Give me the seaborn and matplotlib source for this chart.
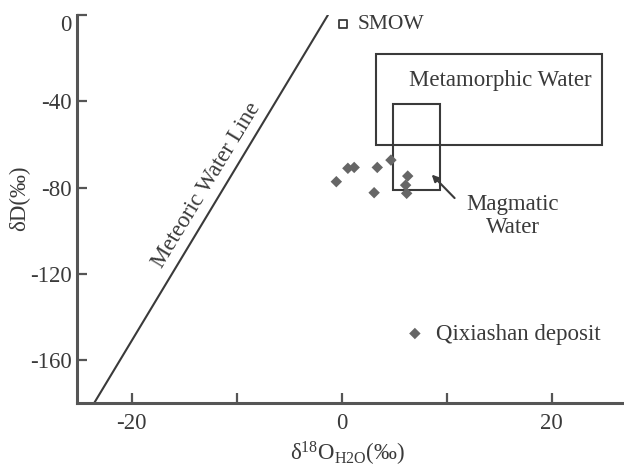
import matplotlib
matplotlib.use("Agg")
import matplotlib.pyplot as plt
from matplotlib.patches import Rectangle
import pandas as pd
import seaborn as sns

# Qixiashan deposit, fluid inclusion H-O isotopes
d18o_h2o = [-0.5, 0.6, 1.2, 3.4, 4.7, 3.1, 6.3, 6.1, 6.2]
dD = [-77.2, -71.0, -70.6, -70.6, -67.2, -82.3, -74.6, -78.8, -82.6]

# meteoric water line end points
mwl_d18o = [-23.6, -1.3]
mwl_dD = [-180, 0]

# reference fields: x0, x1, y0, y1
metamorphic_box = [3.3, 24.8, -60, -18]
magmatic_box = [4.9, 9.4, -81, -41]

smow_d18o = [0.15]
smow_dD = [-4.3]

x_ticks = [-20, -10, 0, 10, 20]
x_ticklabels = ["-20", "", "0", "", "20"]
y_ticks = [0, -40, -80, -120, -160]
y_ticklabels = ["0", "-40", "-80", "-120", "-160"]

sns.set_style("ticks")
plt.rcParams["font.family"] = ["Liberation Serif", "DejaVu Serif"]
plt.rcParams["mathtext.fontset"] = "custom"
plt.rcParams["mathtext.rm"] = "Liberation Serif"
plt.rcParams["mathtext.it"] = "Liberation Serif:italic"
plt.rcParams["axes.unicode_minus"] = False

INK = "#3a3a3a"
FS = 16.5

fig = plt.figure(figsize=(6.24, 4.67), dpi=100)
ax = fig.add_axes([77 / 624, 1 - 403 / 467, 1 - 77 / 624, (403 - 15) / 467])

df = pd.DataFrame({"d18O": d18o_h2o, "dD": dD})
sns.scatterplot(
    data=df, x="d18O", y="dD", marker="D", s=34, color="#666666",
    edgecolor="none", label="Qixiashan deposit", ax=ax, zorder=3,
)

# meteoric water line
ax.plot(mwl_d18o, mwl_dD, color=INK, linewidth=1.5)
ax.text(-12.83, -78.75, "Meteoric Water Line", rotation=58.7,
        rotation_mode="anchor", ha="center", va="center",
        fontsize=FS, color=INK)

# fields
for box in (metamorphic_box, magmatic_box):
    x0, x1, y0, y1 = box
    ax.add_patch(Rectangle((x0, y0), x1 - x0, y1 - y0, fill=False,
                           edgecolor=INK, linewidth=1.5))
ax.text(15.1, -30.2, "Metamorphic Water", ha="center", va="center",
        fontsize=FS, color=INK)
ax.annotate("", xy=(8.4, -73), xytext=(10.95, -85.7),
            arrowprops=dict(arrowstyle="-|>", color=INK, lw=1.5,
                            mutation_scale=10))
ax.text(16.3, -93.2, "Magmatic\nWater", ha="center", va="center",
        fontsize=FS, color=INK, linespacing=1.1)

# SMOW
ax.scatter(smow_d18o, smow_dD, marker="s", s=40, facecolor="white",
           edgecolor=INK, linewidth=1.3, clip_on=False, zorder=3)
ax.text(1.55, -4.3, "SMOW", ha="left", va="center", fontsize=15.5, color=INK)

ax.set_xlim(-25.2, 26.9)
ax.set_ylim(-179.7, 0)
ax.set_xticks(x_ticks)
ax.set_xticklabels(x_ticklabels)
ax.set_yticks(y_ticks)
ax.set_yticklabels(y_ticklabels)
# the top label sits just under the axis end in the original
ax.get_yticklabels()[0].set_va("top")

for side in ("top", "right"):
    ax.spines[side].set_visible(False)
for side in ("left", "bottom"):
    ax.spines[side].set_linewidth(2.2)
    ax.spines[side].set_color("#555555")
ax.tick_params(direction="in", length=7, width=1.6, color="#555555",
               labelsize=FS, labelcolor=INK)
ax.tick_params(axis="x", pad=7)
ax.tick_params(axis="y", pad=4)

ax.set_xlabel(r"δ$^{18}$O$_{\rm H2O}$(‰)", fontsize=FS, color=INK)
ax.xaxis.set_label_coords(0.495, -0.094)
ax.set_ylabel("δD(‰)", fontsize=FS, color=INK)
ax.yaxis.set_label_coords(-0.086, 0.528)

ax.legend(loc="center left", bbox_to_anchor=(408 / 624, 1 - 334 / 467),
          bbox_transform=fig.transFigure, frameon=False, fontsize=FS,
          handlelength=0.6, handletextpad=0.6, borderpad=0,
          borderaxespad=0, labelcolor=INK)

fig.savefig("out.png", dpi=100)
